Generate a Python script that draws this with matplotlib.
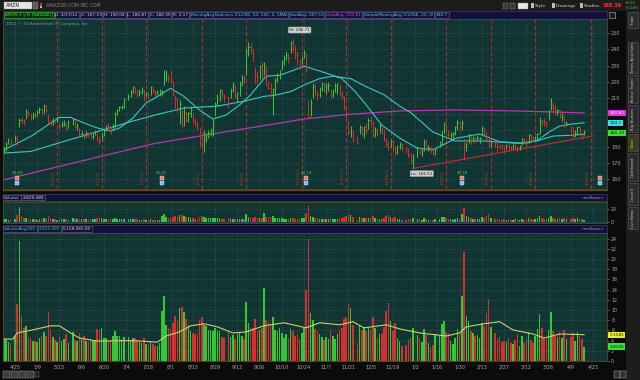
#%%
#1. Import packages
import numpy as np
import pandas as pd
import matplotlib
matplotlib.use('Agg')
import matplotlib.pyplot as plt
from matplotlib.patches import Rectangle
import matplotlib.transforms as mtransforms

plt.rcParams['font.family'] = ['Liberation Sans Narrow', 'DejaVu Sans']

#%%
#2. Data (daily bars AMZN)
START = '2011-04-18'
END = '2012-04-17'
holidays = ['2011-04-22', '2011-05-30', '2011-07-04', '2011-09-05', '2011-11-24',
            '2011-12-26', '2012-01-02', '2012-01-16', '2012-02-20', '2012-04-06']

closes = [
    178.2, 181.6, 183.9, 183.0,
    185.5, 182.3, 196.6, 196.4, 195.8,
    201.2, 200.9, 198.8, 199.5, 199.0,
    201.5, 203.3, 201.9, 204.9, 202.6,
    196.0, 194.3, 196.2, 195.8, 196.2,
    192.8, 193.6, 194.0, 191.4, 195.0,
    196.7, 192.4, 193.0, 187.6,
    187.9, 185.4, 188.4, 187.1, 186.3,
    186.3, 189.1, 184.8, 183.7, 186.4,
    190.1, 193.0, 191.7, 190.6, 192.2,
    200.2, 202.4, 204.2, 204.5, 209.5,
    211.5, 213.9, 216.8, 215.0,
    212.4, 213.6, 215.2, 211.8, 212.9,
    212.1, 216.6, 214.2, 213.2, 213.5,
    213.5, 214.2, 222.5, 223.9, 222.5,
    221.3, 211.7, 209.9, 201.5, 206.1,
    193.4, 204.2, 196.0, 200.5, 202.3,
    196.3, 195.0, 193.0, 185.0, 181.0,
    184.5, 187.6, 188.5, 190.5, 196.0,
    206.3, 210.0, 215.0, 213.0, 210.9,
    210.0, 214.7, 218.0, 211.4,
    213.0, 218.8, 222.5, 222.0, 239.0,
    241.5, 240.0, 233.5, 225.0, 223.6,
    229.9, 224.2, 229.7, 222.7, 216.2,
    211.2, 215.8, 221.3, 224.4, 224.7,
    232.5, 235.0, 236.5, 235.0, 244.8,
    240.0, 236.3, 232.8, 231.3, 234.8,
    237.6, 227.2, 198.4, 206.8, 217.3,
    213.5, 212.0, 215.8, 218.5, 216.5,
    217.7, 218.3, 211.6, 212.9, 217.4,
    218.9, 212.7, 211.0, 204.5, 197.1,
    189.3, 191.9, 183.3, 182.4,
    192.3, 188.4, 192.3, 189.6, 196.2,
    196.0, 187.0, 190.5, 188.0, 193.0,
    190.5, 184.5, 181.5, 180.0, 183.5,
    178.5, 176.5, 180.0, 181.5, 179.5,
    178.5, 174.5, 171.5, 173.1,
    179.0, 177.5, 177.6, 182.6,
    178.6, 179.3, 178.9, 175.9, 178.4,
    181.7, 189.4, 194.5, 190.9,
    187.0, 187.8, 187.8, 191.9, 195.4,
    192.2, 194.4, 179.5, 181.7, 187.7,
    183.9, 185.4, 184.9, 185.5, 185.5,
    191.6, 188.7, 184.8, 180.8, 182.5,
    182.3, 180.6, 180.3, 179.1,
    178.6, 180.3, 179.7, 179.3, 181.0,
    180.3, 179.3, 180.4, 184.5, 183.7,
    181.0, 187.0, 185.5, 184.8, 185.5,
    187.8, 196.7, 195.7, 195.4, 195.0,
    202.1, 205.4, 204.6, 201.2, 202.5,
    198.0, 199.8, 193.3, 194.4,
    191.9, 186.4, 188.4, 192.0, 188.5,
    185.5, 188.39,
]

highs = [
    180.0, 183.0, 185.5, 185.0,
    186.9, 186.5, 197.6, 198.0, 197.0,
    203.4, 202.5, 201.0, 201.3, 201.5,
    202.5, 204.3, 203.8, 206.4, 205.7,
    200.0, 196.5, 197.5, 197.3, 198.8,
    195.0, 195.5, 196.2, 194.8, 196.5,
    197.5, 196.3, 194.5, 191.5,
    189.9, 188.5, 189.6, 189.3, 188.4,
    188.5, 190.5, 188.4, 186.5, 188.5,
    191.1, 193.6, 194.3, 192.8, 193.8,
    201.5, 203.1, 205.3, 205.8, 210.3,
    212.6, 215.0, 217.6, 217.0,
    214.7, 215.4, 216.6, 215.8, 214.0,
    214.0, 217.5, 217.1, 215.2, 215.0,
    215.3, 215.0, 227.0, 227.4, 225.0,
    227.2, 220.5, 211.0, 209.8, 208.5,
    203.5, 205.2, 202.0, 201.5, 205.0,
    200.5, 197.6, 196.0, 192.0, 186.5,
    190.5, 188.5, 190.0, 191.5, 197.0,
    207.5, 212.3, 215.8, 215.3, 212.5,
    211.0, 216.0, 220.0, 217.8,
    214.0, 220.5, 224.0, 224.5, 240.0,
    244.5, 243.8, 240.5, 229.0, 226.7,
    230.5, 232.5, 232.0, 230.0, 220.5,
    219.0, 216.3, 222.5, 225.5, 227.5,
    233.6, 236.5, 239.0, 237.5, 245.5,
    246.71, 242.0, 239.0, 234.2, 236.0,
    239.5, 238.0, 208.5, 209.5, 219.0,
    218.5, 214.5, 216.8, 219.8, 219.0,
    219.0, 219.8, 215.5, 215.6, 219.3,
    219.4, 217.8, 214.5, 211.0, 205.0,
    196.0, 193.0, 190.0, 186.4,
    193.5, 193.0, 193.0, 194.5, 197.5,
    198.5, 195.5, 191.8, 191.5, 194.0,
    192.0, 191.0, 185.5, 183.5, 184.8,
    184.0, 180.5, 181.0, 183.0, 182.0,
    179.5, 179.0, 175.8, 175.5,
    180.5, 180.0, 178.3, 184.8,
    184.4, 181.0, 180.5, 179.4, 179.4,
    183.2, 189.6, 195.0, 194.4,
    190.5, 188.9, 188.8, 192.5, 196.4,
    195.0, 196.6, 185.0, 183.0, 187.8,
    186.4, 186.8, 186.2, 187.3, 186.0,
    192.5, 192.0, 189.0, 186.5, 183.5,
    183.5, 183.5, 181.7, 181.5,
    180.5, 181.5, 181.8, 180.5, 181.8,
    181.5, 180.5, 181.0, 185.3, 185.0,
    184.5, 188.0, 187.5, 186.5, 186.5,
    188.5, 198.5, 196.5, 197.5, 196.0,
    202.5, 209.9, 207.5, 205.5, 203.5,
    202.5, 200.5, 199.0, 196.0,
    193.0, 192.0, 190.4, 193.0, 192.5,
    189.0, 190.04,
]

lows = [
    176.0, 177.5, 181.5, 181.0,
    182.8, 181.0, 192.0, 194.0, 193.5,
    196.8, 198.6, 196.3, 197.0, 197.5,
    198.8, 200.5, 199.5, 200.6, 201.6,
    194.5, 193.0, 193.6, 194.3, 195.0,
    190.6, 192.0, 192.5, 190.2, 191.6,
    193.5, 191.5, 190.2, 186.7,
    186.4, 184.9, 185.7, 186.0, 185.1,
    184.6, 186.9, 183.5, 181.6, 184.0,
    186.7, 189.6, 190.3, 187.9, 190.3,
    192.3, 199.5, 201.8, 203.0, 204.0,
    208.5, 210.5, 213.3, 212.5,
    210.4, 211.4, 212.7, 208.0, 210.6,
    209.6, 212.0, 212.8, 211.2, 211.8,
    211.4, 211.8, 218.0, 220.5, 219.9,
    219.0, 211.0, 203.6, 201.2, 194.0,
    192.0, 192.5, 194.9, 195.0, 198.0,
    194.8, 192.5, 190.0, 180.0, 177.8,
    176.8, 183.0, 185.4, 186.6, 186.5,
    199.0, 205.0, 208.4, 210.8, 207.7,
    204.0, 210.0, 213.8, 210.0,
    207.5, 211.3, 217.4, 219.0, 224.0,
    236.0, 237.0, 233.0, 219.5, 219.5,
    221.5, 222.0, 224.0, 217.5, 215.5,
    210.5, 199.8, 212.0, 219.6, 221.5,
    227.0, 230.5, 233.5, 231.5, 238.0,
    238.5, 234.0, 230.5, 228.0, 231.0,
    234.5, 226.0, 197.9, 198.9, 210.0,
    212.0, 208.5, 210.5, 214.3, 214.0,
    212.2, 214.5, 210.0, 210.9, 214.0,
    212.5, 211.2, 209.3, 202.5, 196.6,
    187.8, 186.0, 183.0, 181.6,
    187.5, 186.3, 185.5, 188.0, 191.0,
    192.5, 185.7, 185.7, 186.6, 188.5,
    188.0, 183.5, 179.5, 177.9, 180.0,
    177.5, 174.5, 175.5, 178.8, 177.4,
    176.0, 173.5, 170.0, 166.51,
    173.5, 175.5, 174.1, 177.2,
    177.6, 177.0, 176.1, 174.6, 174.6,
    179.6, 181.0, 188.5, 188.8,
    185.5, 184.9, 185.3, 187.4, 190.5,
    190.5, 190.5, 172.0, 177.4, 182.3,
    181.6, 183.0, 182.0, 184.2, 182.5,
    186.3, 187.4, 184.0, 179.5, 179.5,
    179.5, 177.0, 178.5, 178.3,
    176.3, 178.2, 177.8, 177.6, 178.5,
    177.9, 176.6, 178.0, 181.0, 182.5,
    180.5, 182.5, 183.5, 183.5, 184.0,
    184.5, 187.5, 193.5, 193.0, 192.0,
    196.5, 202.5, 201.5, 200.0, 199.5,
    197.6, 195.5, 191.5, 192.5,
    188.0, 185.5, 186.0, 187.5, 187.9,
    184.7, 186.87,
]

# volume in millions
volumes = [
    4.5, 4.2, 3.8, 3.5,
    5.0, 11.2, 23.5, 9.0, 6.5,
    6.9, 4.8, 4.5, 3.9, 4.0,
    3.7, 4.6, 4.9, 5.6, 4.9,
    9.6, 6.0, 4.7, 4.2, 3.8,
    4.8, 4.0, 4.4, 5.3, 3.6,
    5.6, 4.1, 4.0, 5.4,
    4.3, 4.9, 3.9, 3.7, 4.4,
    3.9, 4.1, 6.3, 6.1, 6.4,
    4.6, 4.5, 3.9, 4.1, 5.0,
    5.9, 5.0, 4.9, 4.3, 4.8,
    4.7, 4.2, 4.5, 4.6,
    4.1, 3.7, 3.6, 4.5, 3.4,
    3.1, 4.0, 3.3, 2.9, 3.0,
    3.5, 9.9, 12.8, 7.0, 6.4,
    6.2, 7.4, 8.9, 7.8, 10.3,
    10.5, 9.6, 8.3, 7.1, 5.9,
    5.5, 5.3, 5.4, 8.0, 8.6,
    7.0, 6.9, 6.0, 6.0, 5.8,
    6.5, 6.1, 5.8, 4.7, 4.6,
    5.9, 4.7, 5.1, 4.4,
    5.3, 5.4, 5.0, 4.4, 11.6,
    7.4, 6.4, 6.4, 8.3, 5.9,
    6.0, 6.5, 14.4, 8.1, 7.6,
    7.3, 8.6, 6.0, 5.9, 6.5,
    5.5, 4.6, 5.3, 4.6, 6.2,
    5.8, 5.0, 5.3, 4.3, 5.5,
    6.4, 14.0, 24.0, 9.5, 8.0,
    6.2, 5.8, 5.3, 4.8, 4.1,
    4.7, 4.4, 6.0, 5.0, 4.3,
    5.3, 6.1, 6.5, 8.3, 8.6,
    11.2, 10.3, 7.1, 3.6,
    7.1, 6.0, 6.7, 5.9, 6.6,
    6.0, 8.6, 6.5, 4.5, 5.2,
    5.4, 6.6, 9.8, 11.4, 7.9,
    5.8, 7.5, 4.6, 3.9, 3.0,
    3.2, 4.1, 4.6, 6.5,
    5.1, 4.5, 3.8, 6.2,
    5.1, 3.6, 2.7, 3.2, 5.3,
    4.9, 7.2, 7.9, 5.7,
    5.4, 4.0, 3.4, 4.6, 6.2,
    5.2, 12.7, 21.3, 8.9, 7.9,
    5.8, 5.4, 4.9, 5.1, 4.6,
    7.4, 6.9, 9.4, 12.2, 6.6,
    5.4, 4.3, 4.7, 3.8,
    4.0, 3.8, 4.5, 3.6, 3.3,
    4.1, 5.3, 3.0, 5.0, 3.5,
    4.3, 5.6, 4.1, 3.5, 4.9,
    6.3, 9.3, 6.4, 4.5, 4.4,
    6.0, 9.6, 5.9, 4.9, 4.8,
    5.6, 4.6, 6.1, 4.3,
    4.8, 5.5, 4.0, 5.7, 4.9,
    4.3, 2.83,
]

# moving average lines (business day number, value)
sma20_day = [0, 6, 13, 21, 25, 30, 36, 42, 48, 52, 58, 64, 68, 75, 81, 88, 94, 100, 106, 111,
             118, 124, 130, 135, 142, 148, 152, 158, 163, 170, 178, 186, 193, 199, 203, 214,
             223, 235, 240, 246, 250, 256, 261]
sma20_val = [178, 182, 187, 194.6, 198, 198, 194.6, 191.5, 189.6, 191.5, 197.6, 207, 210, 216, 211,
             202.6, 197, 199.5, 205.7, 212, 223.5, 224, 227, 229.7, 226.7, 224, 222, 214, 205.7,
             193.3, 185.3, 179, 178, 182, 185, 187.8, 183, 182, 184, 189.6, 192.7, 194, 194.7]
sma50_day = [0, 12, 29, 43, 55, 68, 81, 96, 108, 117, 123, 129, 135, 142, 148, 156, 163, 171,
             178, 183, 193, 203, 216, 231, 240, 247, 255, 261]
sma50_val = [176, 177, 184, 189.6, 194.6, 199.5, 203.8, 205, 208, 211, 212, 214, 218, 222, 223.5,
             222, 217, 212, 205, 201, 189, 183.5, 183.5, 182, 183.5, 186.5, 187, 187.53]
sma200_day = [0, 68, 135, 156, 178, 203, 231, 261]
sma200_val = [159.5, 182, 197, 200, 202, 202.6, 202, 200.81]

# 20 day average volume (millions)
vavg_day = [0, 4, 6, 13, 21, 25, 30, 34, 42, 58, 69, 73, 79, 84, 90, 96, 103, 109, 117, 126,
            136, 142, 151, 157, 162, 172, 178, 187, 199, 205, 208, 216, 223, 229, 238, 243, 250, 261]
vavg_val = [4.3, 4.3, 5.5, 6.1, 6.9, 6.9, 5.5, 4.5, 3.9, 4.0, 3.7, 4.9, 5.7, 6.9, 7.3, 6.7, 5.5,
            5.7, 6.9, 7.5, 6.5, 7.5, 7.1, 7.7, 6.5, 7.1, 6.3, 5.5, 4.9, 5.5, 6.7, 7.3, 7.7, 6.1,
            5.3, 4.5, 5.3, 5.158]

# drawn trend line and marked dates
trend_dates = ['2011-12-30', '2012-04-23']
trend_prices = [166.51, 186.6]
expiry_dates = ['2011-05-20', '2011-06-17', '2011-07-15', '2011-08-19', '2011-09-16', '2011-10-21',
                '2011-11-18', '2011-12-16', '2012-01-20', '2012-02-17', '2012-03-16', '2012-04-20']
earn_dates = ['2011-04-26', '2011-07-26', '2011-10-25', '2012-01-31', '2012-04-26']
earn_eps = ['$0.44', '$0.41', '$0.14', '$0.38', '']

#%%
#3. x positions (business day numbers from START)
dates = pd.bdate_range(START, END)
dates = dates[~dates.isin(pd.to_datetime(holidays))]
d64 = dates.values.astype('datetime64[D]')
x = np.busday_count(np.datetime64(START), d64)

def bday(s):
    return np.busday_count(np.datetime64(START), np.datetime64(s))

closes = np.array(closes)
highs = np.array(highs)
lows = np.array(lows)
volumes = np.array(volumes)
prev = np.r_[closes[0], closes[:-1]]

UP = '#34c934'
DN = '#d42e2e'
cols = np.where(closes >= prev, UP, DN)

tick_dates = pd.date_range('2011-04-25', '2012-04-23', freq='14D')
tick_x = [bday(d.strftime('%Y-%m-%d')) for d in tick_dates]
tick_lbl = [f'{d.month}/{d.day}' for d in tick_dates]

#%%
#4. Figure and layout (pixel boxes)
W, H = 640, 380
PANEL = '#113533'
GRID = '#6d8180'
BORDER = '#5d4b25'
AXTXT = '#a9a9a9'
NAVY = '#11113e'
CYAN = '#3cc6c6'
MAG = '#b23ab2'

def px(l, t, r, b):
    return [l / W, 1 - b / H, (r - l) / W, (b - t) / H]

fig = plt.figure(figsize=(6.4, 3.8), dpi=100, facecolor='#0b0b0b')

bg = fig.add_axes([0, 0, 1, 1], zorder=0)
bg.set_xlim(0, W)
bg.set_ylim(H, 0)
bg.axis('off')
bg.add_patch(Rectangle((0, 0), W, 11, fc='#1c1c1c', ec='none'))
bg.add_patch(Rectangle((3, 11), 604, 7.5, fc=NAVY, ec='#3c3c66', lw=0.5))
bg.add_patch(Rectangle((3, 194), 604, 7, fc=NAVY, ec='#3c3c66', lw=0.5))
bg.add_patch(Rectangle((3, 225), 604, 7.5, fc=NAVY, ec='#3c3c66', lw=0.5))
bg.add_patch(Rectangle((626, 11), 14, H - 11, fc='#1d1d1d', ec='none'))
bg.plot([3, 607], [190, 190], color=BORDER, lw=1)

#%%
#5. Price panel
ax = fig.add_axes(px(3, 19, 607, 189), zorder=1)
ax.set_facecolor(PANEL)
XMIN, XMAX = -0.4, 271.3
ax.set_xlim(XMIN, XMAX)
ax.set_ylim(153.8, 258.8)
ax.set_xticks(tick_x)
yt = np.arange(160, 260, 10)
ax.set_yticks(yt)
# 190 and 200 sit under the price tags
ax.set_yticklabels(['' if v in (190, 200) else str(v) for v in yt])
ax.yaxis.tick_right()
ax.tick_params(axis='x', length=0, labelbottom=False)
ax.tick_params(axis='y', length=1.5, width=0.4, color=AXTXT, labelcolor=AXTXT, labelsize=3.6, pad=1.5)
ax.grid(True, color=GRID, ls=(0, (1, 2)), lw=0.45, alpha=0.7)
for s in ax.spines.values():
    s.set_color(BORDER)
    s.set_linewidth(0.6)

for d in expiry_dates:
    xe = bday(d)
    ax.axvline(xe, color='#a33030', ls=(0, (4, 2)), lw=0.8, zorder=1.5)
    t = pd.Timestamp(d)
    ax.text(xe - 0.6, 156.5, f'{t.month}/{t.day}/{t.strftime("%y")}', rotation=90, color='#b83232',
            fontsize=2.8, ha='right', va='bottom', zorder=2)

ax.plot(sma200_day, sma200_val, color=MAG, lw=0.9, zorder=2)
ax.plot(sma50_day, sma50_val, color=CYAN, lw=0.8, zorder=2)
ax.plot(sma20_day, sma20_val, color=CYAN, lw=0.8, zorder=2)
ax.plot([bday(d) for d in trend_dates], trend_prices, color='#b33030', lw=0.9, zorder=2)

ax.vlines(x, lows, highs, colors=cols, lw=0.75, zorder=3)
ax.hlines(closes, x, x + 0.5, colors=cols, lw=0.6, zorder=3)

for d, eps in zip(earn_dates, earn_eps):
    xe = bday(d)
    ax.plot(xe, 160.8, marker='s', ms=2.6, mfc='#e58080', mec='#f0c0c0', mew=0.3, zorder=4)
    ax.plot(xe, 157.4, marker='s', ms=2.6, mfc='#7fc0e6', mec='#c8e8f8', mew=0.3, zorder=4)
    if eps:
        ax.text(xe, 163.0, eps, color='#3fd83f', fontsize=2.8, ha='center', va='bottom', zorder=4)

ax.text(133, 252.0, 'Hi: 246.71', color='#202020', fontsize=3, ha='center', va='center', zorder=5,
        bbox=dict(boxstyle='round,pad=0.25', fc='#cfcfcf', ec='#909090', lw=0.3))
ax.text(188, 163.3, 'Lo: 166.51', color='#202020', fontsize=3, ha='center', va='center', zorder=5,
        bbox=dict(boxstyle='round,pad=0.25', fc='#cfcfcf', ec='#909090', lw=0.3))
ax.text(1, 257.0, '2012 \u00a9 TD Ameritrade IP Company, Inc.', color='#8c9a9a', fontsize=3,
        ha='left', va='top', zorder=5)

tr = mtransforms.blended_transform_factory(ax.transAxes, ax.transData)
for val, txt, fc, tc in [(200.81, '200.81', '#e22ee2', '#ffffff'),
                         (194.7, '194.7', '#34e0e0', '#0e3a6a'),
                         (188.39, '188.39', '#35e335', '#103010')]:
    ax.text(1.004, val, txt, transform=tr, fontsize=3.2, color=tc, ha='left', va='center',
            clip_on=False, zorder=6, bbox=dict(boxstyle='square,pad=0.25', fc=fc, ec='none'))

#%%
#6. Small volume panel
ax1 = fig.add_axes(px(3, 202, 607, 223), zorder=1)
ax1.set_facecolor(PANEL)
ax1.set_xlim(XMIN, XMAX)
ax1.set_ylim(-1.5, 30.8)
ax1.bar(x, volumes, width=0.7, color=cols, lw=0)
ax1.set_xticks(tick_x)
ax1.set_yticks([0, 20])
ax1.yaxis.tick_right()
ax1.tick_params(axis='x', length=0, labelbottom=False)
ax1.tick_params(axis='y', length=1.5, width=0.4, color=AXTXT, labelcolor=AXTXT, labelsize=3.4, pad=1.5)
ax1.grid(True, color=GRID, ls=(0, (1, 2)), lw=0.45, alpha=0.7)
for s in ax1.spines.values():
    s.set_color(BORDER)
    s.set_linewidth(0.6)

#%%
#7. Big volume panel with average
ax2 = fig.add_axes(px(3, 233, 607, 361), zorder=1)
ax2.set_facecolor(PANEL)
ax2.set_xlim(XMIN, XMAX)
ax2.set_ylim(0, 25.1)
ax2.bar(x, volumes, width=0.7, color=cols, lw=0)
ax2.plot(vavg_day, vavg_val, color='#cfcf6a', lw=0.8)
ax2.set_xticks(tick_x)
ax2.set_xticklabels(tick_lbl)
ax2.set_yticks(np.arange(0, 25, 2))
ax2.yaxis.tick_right()
ax2.tick_params(axis='x', length=0, labelcolor=AXTXT, labelsize=3.6, pad=2.5)
ax2.tick_params(axis='y', length=1.5, width=0.4, color=AXTXT, labelcolor=AXTXT, labelsize=3.4, pad=1.5)
ax2.grid(True, color=GRID, ls=(0, (1, 2)), lw=0.45, alpha=0.7)
for s in ax2.spines.values():
    s.set_color(BORDER)
    s.set_linewidth(0.6)

tr2 = mtransforms.blended_transform_factory(ax2.transAxes, ax2.transData)
for val, txt, fc in [(5.158, '5.1581', '#eaea3a'), (2.83, '2.8295', '#35e335')]:
    ax2.text(1.004, val, txt, transform=tr2, fontsize=3.1, color='#202010', ha='left', va='center',
             clip_on=False, zorder=6, bbox=dict(boxstyle='square,pad=0.25', fc=fc, ec='none'))

#%%
#8. Header strips, toolbar and side tabs (pixel overlay)
fg = fig.add_axes([0, 0, 1, 1], zorder=5)
fg.set_xlim(0, W)
fg.set_ylim(H, 0)
fg.axis('off')
fg.patch.set_alpha(0)
renderer = fig.canvas.get_renderer()

def strip(x0, y0, items, fs=3.1, gap=2.6):
    # boxes laid out one after the other, like the study labels
    for s, c, fc, ec in items:
        t = fg.text(x0, y0, s, color=c, fontsize=fs, ha='left', va='center',
                    bbox=dict(boxstyle='square,pad=0.2', fc=fc, ec=ec, lw=0.4))
        x0 += t.get_window_extent(renderer).width + gap

# top toolbar
fg.add_patch(Rectangle((4, 2), 28, 7, fc='#e6e6e6', ec='#909090', lw=0.3))
fg.text(6, 5.6, 'AMZN', color='#101010', fontsize=3.3, va='center')
fg.add_patch(Rectangle((33, 2), 5, 7, fc='#5a5a5a', ec='#909090', lw=0.3))
fg.add_patch(Rectangle((39.5, 3), 2.5, 2.5, fc='#d83030', ec='none'))
fg.add_patch(Rectangle((39.5, 5.5), 2.5, 2.5, fc='#e0c030', ec='none'))
fg.text(46, 5.6, 'AMAZON.COM INC COM', color='#858585', fontsize=3.3, va='center')
for xi in [503, 510]:
    fg.add_patch(Rectangle((xi, 2.5), 5, 6, fc='#3a3a3a', ec='#8a8a8a', lw=0.3))
fg.add_patch(Rectangle((518, 2.5), 10, 6, fc='#e8e8e8', ec='#9a9a9a', lw=0.3))
for xi, s in [(531, 'Style'), (552, 'Drawings'), (580, 'Studies')]:
    fg.add_patch(Rectangle((xi, 3), 3, 5, fc='#bcbcbc', ec='none'))
    fg.text(xi + 4, 5.6, s, color='#d6d6d6', fontsize=3.2, va='center')
fg.text(602, 5.6, '188.39', color='#ff2d2d', fontsize=3.6, fontweight='bold', va='center')
fg.text(625, 3.2, '+3.00', color='#36e036', fontsize=2.5, va='center')
fg.text(625, 8.2, '+1.58%', color='#36e036', fontsize=2.5, va='center')

# legend strip
GREY = ('#d4d4d4', NAVY, '#6a6a8e')
strip(5, 14.8, [('AMZN 1 y D [NASDAQ]', '#3ae23a', '#102a10', '#3ae23a'),
                ('D: 4/17/12',) + GREY, ('O: 187.23',) + GREY, ('H: 190.04',) + GREY,
                ('L: 186.87',) + GREY, ('C: 188.39',) + GREY, ('R: 3.17',) + GREY,
                ('MovingAvgTwoLines (CLOSE, 50, 200, 0, SMA)', '#40d6d6', NAVY, '#6a6a8e'),
                ('fastAvg: 187.53', '#40d6d6', NAVY, '#6a6a8e'),
                ('slowAvg: 200.81', '#e040e0', NAVY, '#6a6a8e'),
                ('SimpleMovingAvg (CLOSE, 20, 0)', '#40d6d6', NAVY, '#6a6a8e'),
                ('194.7', '#40d6d6', NAVY, '#6a6a8e')])
fg.add_patch(Rectangle((609, 12), 6, 6, fc='#1a1a1a', ec='#bdbdbd', lw=0.4))

# volume headers
strip(4, 197.6, [('Volume', '#cfcfcf', NAVY, '#6a6a8e'), ('2,829,480', '#e6e6e6', NAVY, '#6a6a8e')])
fg.text(604, 197.6, '<millions>', color='#9c9c9c', fontsize=3.0, ha='right', va='center')
strip(4, 228.8, [('VolumeAvg(20)', '#4fd49a', NAVY, '#6a6a8e'), ('2,829,480', '#3ad23a', NAVY, '#6a6a8e'),
                 ('5,158,082.85', '#e6e070', NAVY, '#6a6a8e')])
fg.text(604, 228.8, '<millions>', color='#9c9c9c', fontsize=3.0, ha='right', va='center')

# bottom toolbar
for i in range(4):
    fg.add_patch(Rectangle((3 + i * 8, 371), 6.5, 6.5, fc='#3e3e3e', ec='#9a9a9a', lw=0.3))
fg.add_patch(Rectangle((35, 371.5), 4, 5.5, fc='#1a1a1a', ec='#9a9a9a', lw=0.3))
for xi in [614, 620]:
    fg.add_patch(Rectangle((xi, 371), 5.5, 6.5, fc='#2e2e2e', ec='#c0c0c0', lw=0.3))

# side tabs
tabs = [('Trade', 12, 28), ('Times And Sales', 42, 73), ('Active Trader', 75, 103),
        ('Big Buttons', 105, 132), ('Chart', 134, 151), ('Dashboard', 153, 181),
        ('Level II', 183, 205), ('Live News', 207, 229)]
for name, y0, y1 in tabs:
    hot = name == 'Chart'
    fg.add_patch(Rectangle((628, y0), 10, y1 - y0, fc='#3b3b22' if hot else '#2c2c2c',
                           ec='#5c5c5c', lw=0.4))
    fg.text(633, (y0 + y1) / 2, name, rotation=90, color='#e0c04a' if hot else '#c4c4c4',
            fontsize=2.7, ha='center', va='center')

fig.savefig('out.png', dpi=100, facecolor=fig.get_facecolor())
